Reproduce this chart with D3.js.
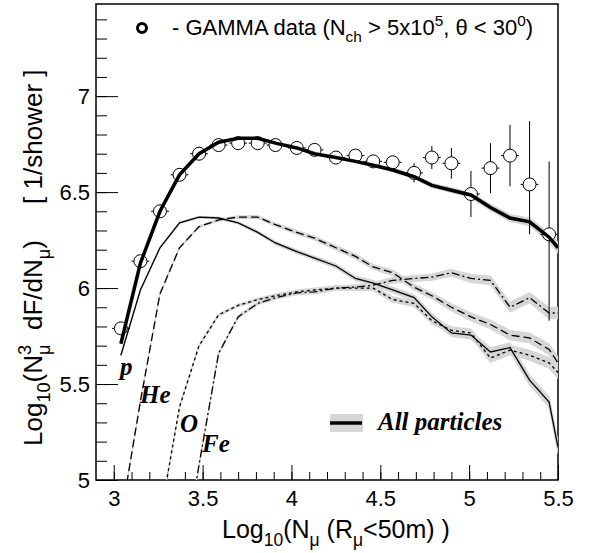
<!DOCTYPE html>
<meta charset="utf-8">
<script src="https://d3js.org/d3.v7.min.js"></script>
<style>
  body { margin: 0; background: #fff; }
  svg text { font-family: "Liberation Sans", Arial, sans-serif; fill: #000; white-space: pre; }
  .lab { font-family: "Liberation Serif", "Times New Roman", serif; font-weight: bold; font-style: italic; }
</style>
<body>
<div id="chart"></div>
<script>

// ---- data ----
// bin centres of the GAMMA points, log10(N_mu)
var binX = [3.04, 3.15, 3.26, 3.37, 3.48, 3.59, 3.70, 3.81, 3.91, 4.03, 4.13, 4.25,
            4.36, 4.46, 4.57, 4.69, 4.79, 4.90, 5.01, 5.12, 5.23, 5.34, 5.45];
var gammaY = [5.79, 6.14, 6.40, 6.59, 6.70, 6.745, 6.755, 6.755, 6.745, 6.73, 6.72, 6.68,
              6.69, 6.66, 6.655, 6.60, 6.68, 6.65, 6.49, 6.625, 6.69, 6.54, 6.28];
var gammaErrUp   = [0.02, 0.02, 0.02, 0.02, 0.02, 0.02, 0.02, 0.02, 0.02, 0.02, 0.02, 0.02,
                    0.03, 0.03, 0.03, 0.05, 0.06, 0.08, 0.12, 0.13, 0.16, 0.33, 0.38];
var gammaErrDown = [0.02, 0.02, 0.02, 0.02, 0.02, 0.02, 0.02, 0.02, 0.02, 0.02, 0.02, 0.02,
                    0.03, 0.03, 0.03, 0.05, 0.06, 0.08, 0.12, 0.13, 0.16, 0.26, 0.45];
var gammaErrX = 0.05;

// simulated curves, same bins plus the right edge
var curveX = [3.04, 3.15, 3.26, 3.37, 3.48, 3.59, 3.70, 3.81, 3.91, 4.03, 4.13, 4.25,
              4.36, 4.46, 4.57, 4.69, 4.79, 4.90, 5.01, 5.12, 5.23, 5.34, 5.45, 5.50];
var allY = [5.71, 6.13, 6.40, 6.59, 6.70, 6.76, 6.78, 6.78, 6.755, 6.73, 6.70, 6.68,
            6.66, 6.64, 6.615, 6.58, 6.535, 6.51, 6.485, 6.42, 6.365, 6.345, 6.265, 6.21];
var pY   = [5.65, 5.99, 6.21, 6.34, 6.37, 6.365, 6.34, 6.29, 6.235, 6.19, 6.156, 6.115,
            6.05, 6.026, 5.99, 5.95, 5.85, 5.766, 5.755, 5.667, 5.69, 5.52, 5.406, 5.17];
var heY  = [4.80, 5.41, 5.97, 6.21, 6.32, 6.355, 6.37, 6.37, 6.33, 6.29, 6.26, 6.21,
            6.165, 6.11, 6.08, 6.005, 5.96, 5.90, 5.85, 5.81, 5.755, 5.74, 5.68, 5.61];
var oY   = [null, null, 4.80, 5.38, 5.70, 5.86, 5.91, 5.94, 5.96, 5.98, 5.99, 6.00,
            6.00, 6.00, 5.94, 5.92, 5.83, 5.78, 5.766, 5.635, 5.677, 5.65, 5.61, 5.56];
var feY  = [null, null, null, 4.46, 5.08, 5.66, 5.85, 5.92, 5.95, 5.975, 5.98, 6.00,
            6.005, 6.015, 6.04, 6.05, 6.057, 6.08, 6.05, 6.04, 5.90, 5.95, 5.87, 5.87];
// half widths of the grey bands
var allErr  = [0.003, 0.003, 0.003, 0.003, 0.003, 0.003, 0.003, 0.004, 0.004, 0.005, 0.005, 0.006,
               0.007, 0.008, 0.009, 0.010, 0.011, 0.012, 0.014, 0.016, 0.018, 0.020, 0.024, 0.028];
var compErr = [0.003, 0.003, 0.003, 0.004, 0.004, 0.005, 0.006, 0.007, 0.008, 0.009, 0.010, 0.011,
               0.012, 0.013, 0.014, 0.015, 0.016, 0.018, 0.020, 0.022, 0.024, 0.026, 0.028, 0.030];

var xTicks = [3, 3.5, 4, 4.5, 5, 5.5];
var yTicks = [5, 5.5, 6, 6.5, 7];

// ---- layout ----
var margin = {top: 4, right: 32, bottom: 73, left: 96},
    width = 590 - margin.left - margin.right,
    height = 553 - margin.top - margin.bottom;

var svg = d3.select("#chart")
  .append("svg")
    .attr("width", 590)
    .attr("height", 553)
  .append("g")
    .attr("transform", "translate(" + margin.left + "," + margin.top + ")");

var x = d3.scaleLinear().domain([2.9, 5.5]).range([0, width]);
var y = d3.scaleLinear().domain([5, 7.48]).range([height, 0]);

svg.append("clipPath").attr("id", "clip")
  .append("rect").attr("width", width).attr("height", height);

// rich text with sub / superscripts
function rich(sel, parts, size) {
  var shift = 0;
  parts.forEach(function(p) {
    var s = p[1] === "sub" ? 0.3 * size : (p[1] === "sup" ? -0.42 * size : 0);
    var t = sel.append("tspan").text(p[0])
      .style("font-size", (p[1] ? 0.7 * size : size) + "px")
      .attr("dy", s - shift);
    if (p[2]) t.attr("dx", p[2]);
    shift = s;
  });
}

// ---- axes ----
function styleAxis(g) {
  g.select(".domain").remove();
  g.selectAll("line").attr("stroke", "#000");
  g.selectAll("text").style("font-size", "22px").attr("font-family", null);
}

svg.append("g")
  .attr("transform", "translate(0," + height + ")")
  .call(d3.axisBottom(x).tickValues(d3.range(3, 5.45, 0.1)).tickSize(-8).tickFormat(""))
  .call(styleAxis);
svg.append("g")
  .attr("transform", "translate(0," + height + ")")
  .call(d3.axisBottom(x).tickValues(xTicks).tickSize(-15).tickPadding(10).tickFormat(function(d) { return d; }))
  .call(styleAxis);

svg.append("g")
  .call(d3.axisLeft(y).tickValues(d3.range(5.1, 7.45, 0.1)).tickSize(-11).tickFormat(""))
  .call(styleAxis);
svg.append("g")
  .call(d3.axisLeft(y).tickValues(yTicks).tickSize(-22).tickPadding(6).tickFormat(function(d) { return d; }))
  .call(styleAxis);

svg.append("rect")
  .attr("width", width).attr("height", height)
  .attr("fill", "none").attr("stroke", "#000").attr("stroke-width", 1.5);

// axis titles
rich(svg.append("text")
    .attr("x", 222 - margin.left)
    .attr("y", 538 - margin.top),
  [["Log"], ["10", "sub"], ["(N"], ["\u03bc", "sub"], [" (R"], ["\u03bc", "sub"], ["<50m) )"]], 25);

rich(svg.append("text")
    .attr("transform", "rotate(-90)")
    .attr("x", -(446 - margin.top))
    .attr("y", 42 - margin.left),
  [["Log"], ["10", "sub"], ["(N"], ["3", "sup"], ["\u03bc", "sub", -10.1], ["  dF/dN"], ["\u03bc", "sub"], [")"], ["     [ 1/shower ]"]], 26);

// ---- curves ----
var plot = svg.append("g").attr("clip-path", "url(#clip)");

function pts(ys, errs) {
  return curveX.map(function(v, i) { return {x: v, y: ys[i], e: errs[i]}; });
}
var line = d3.line()
  .defined(function(d) { return d.y != null; })
  .x(function(d) { return x(d.x); })
  .y(function(d) { return y(d.y); });
var band = d3.area()
  .defined(function(d) { return d.y != null; })
  .x(function(d) { return x(d.x); })
  .y0(function(d) { return y(d.y - d.e); })
  .y1(function(d) { return y(d.y + d.e); });

var comps = [
  {name: "p",  ys: pY,  dash: null},
  {name: "He", ys: heY, dash: "8,4"},
  {name: "O",  ys: oY,  dash: "3,3"},
  {name: "Fe", ys: feY, dash: "8,3,2,3"}
];

comps.forEach(function(c) {
  plot.append("path")
    .datum(pts(c.ys, compErr))
    .attr("d", band)
    .attr("fill", "#d6d6d6")
    .attr("stroke", "#d6d6d6")
    .attr("stroke-width", 1.2);
});
plot.append("path")
  .datum(pts(allY, allErr))
  .attr("d", band)
  .attr("fill", "#d6d6d6")
  .attr("stroke", "#d6d6d6")
  .attr("stroke-width", 1.2);

// ---- GAMMA data points ----
var data = binX.map(function(v, i) {
  return {x: v, y: gammaY[i], up: gammaErrUp[i], dn: gammaErrDown[i]};
});
var pg = plot.append("g");
pg.selectAll(".ex").data(data).enter().append("line")
  .attr("x1", function(d) { return x(d.x - gammaErrX); })
  .attr("x2", function(d) { return x(d.x + gammaErrX); })
  .attr("y1", function(d) { return y(d.y); })
  .attr("y2", function(d) { return y(d.y); })
  .attr("stroke", "#000").attr("stroke-width", 1);
pg.selectAll(".ey").data(data).enter().append("line")
  .attr("x1", function(d) { return x(d.x); })
  .attr("x2", function(d) { return x(d.x); })
  .attr("y1", function(d) { return y(d.y - d.dn); })
  .attr("y2", function(d) { return y(d.y + d.up); })
  .attr("stroke", "#000").attr("stroke-width", 1);
pg.selectAll("circle").data(data).enter().append("circle")
  .attr("cx", function(d) { return x(d.x); })
  .attr("cy", function(d) { return y(d.y); })
  .attr("r", 6.5)
  .attr("fill", "#fff")
  .attr("stroke", "#000").attr("stroke-width", 1);

comps.forEach(function(c) {
  plot.append("path")
    .datum(pts(c.ys, compErr))
    .attr("d", line)
    .attr("fill", "none")
    .attr("stroke", "#000")
    .attr("stroke-width", 1.3)
    .attr("stroke-dasharray", c.dash);
});
plot.append("path")
  .datum(pts(allY, allErr))
  .attr("d", line)
  .attr("fill", "none")
  .attr("stroke", "#000")
  .attr("stroke-width", 3.5);

// ---- labels and legends ----
var labels = [["p", 120, 375], ["He", 140, 403], ["O", 180, 432], ["Fe", 202, 452]];
svg.selectAll(".clab").data(labels).enter().append("text")
  .attr("class", "lab")
  .attr("x", function(d) { return d[1] - margin.left; })
  .attr("y", function(d) { return d[2] - margin.top; })
  .style("font-size", "25px")
  .text(function(d) { return d[0]; });

svg.append("rect")
  .attr("x", 330 - margin.left).attr("y", 414 - margin.top)
  .attr("width", 33).attr("height", 18)
  .attr("fill", "#d6d6d6");
svg.append("line")
  .attr("x1", 330 - margin.left).attr("x2", 362 - margin.left)
  .attr("y1", 423 - margin.top).attr("y2", 423 - margin.top)
  .attr("stroke", "#000").attr("stroke-width", 3.5);
svg.append("text")
  .attr("class", "lab")
  .attr("x", 378 - margin.left).attr("y", 430 - margin.top)
  .style("font-size", "25px")
  .text("All particles");

svg.append("circle")
  .attr("cx", 142 - margin.left).attr("cy", 28 - margin.top)
  .attr("r", 4.5)
  .attr("fill", "none").attr("stroke", "#000").attr("stroke-width", 3);
rich(svg.append("text")
    .attr("x", 172 - margin.left)
    .attr("y", 35 - margin.top),
  [["- GAMMA data (N"], ["ch", "sub"], [" > 5x10"], ["5", "sup"], [", \u03b8 < 30"], ["0", "sup"], [")"]], 22);

</script>
</body>
